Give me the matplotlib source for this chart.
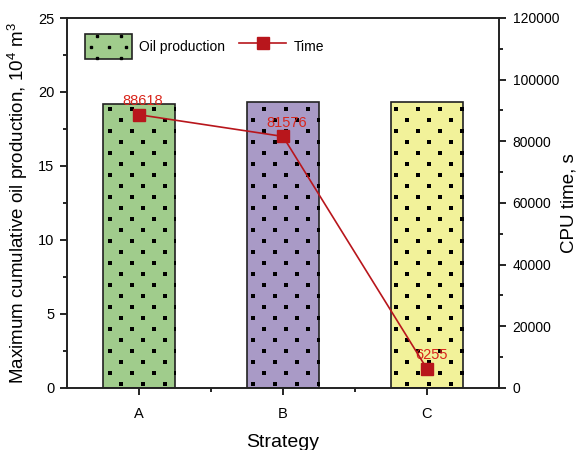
import numpy as np
import matplotlib
matplotlib.use("Agg")
import matplotlib.pyplot as plt
from matplotlib.patches import Rectangle
from matplotlib.lines import Line2D
from matplotlib.legend_handler import HandlerBase

plt.rcParams['font.family'] = ['Liberation Sans', 'DejaVu Sans']
plt.rcParams['mathtext.fontset'] = 'custom'
plt.rcParams['mathtext.rm'] = 'Liberation Sans'
plt.rcParams['mathtext.it'] = 'Liberation Sans:italic'

strategies = ['A', 'B', 'C']
oil_production = [19.2, 19.3, 19.3]      # 10^4 m^3
cpu_time = [88618, 81576, 6255]          # s
bar_colors = ['#a0cc8c', '#a99ac6', '#f2f29a']
line_color = '#b8161c'
label_color = '#d9261c'

DOT_DX = 0.1528   # dot spacing along a row (x units)
DOT_DY = 0.743    # row spacing (y units)


def dot_grid(x0, x1, y0, y1):
    # staggered dot texture covering a rectangle
    xs, ys = [], []
    base = -0.125 - 6 * DOT_DX
    for i, y in enumerate(np.arange(0.27, y1, DOT_DY)):
        shift = 0 if i % 2 == 0 else -DOT_DX / 2
        for x in np.arange(base + shift, x1 + DOT_DX, DOT_DX):
            if x0 - 0.02 <= x <= x1 + 0.02:
                xs.append(x)
                ys.append(y)
    return xs, ys


class DottedPatchHandler(HandlerBase):
    def create_artists(self, legend, orig_handle, xdescent, ydescent,
                       width, height, fontsize, trans):
        rect = Rectangle((-xdescent, -ydescent), width, height,
                         facecolor=orig_handle.get_facecolor(),
                         edgecolor='#222222', linewidth=1.2, transform=trans)
        dx = width / 4
        pts_x = [-xdescent + dx * 1.0, -xdescent + dx * 3.0,
                 -xdescent + dx * 0.5, -xdescent + dx * 2.0, -xdescent + dx * 3.5,
                 -xdescent + dx * 1.0, -xdescent + dx * 3.0]
        pts_y = [-ydescent + height * 0.06] * 2 + [-ydescent + height * 0.5] * 3 + \
                [-ydescent + height * 0.94] * 2
        dots = Line2D(pts_x, pts_y, linestyle='none', marker='s', markersize=1.9,
                      color='black', transform=trans)
        return [rect, dots]


fig, ax = plt.subplots(figsize=(5.78, 4.5), dpi=100)
fig.subplots_adjust(left=0.116, right=0.863, top=0.96, bottom=0.138)

x = np.arange(len(strategies))
bars = ax.bar(x, oil_production, width=0.5, color=bar_colors,
              edgecolor='#222222', linewidth=1.2, zorder=2)

# dotted fill texture clipped to each bar
for b in bars:
    bx0 = b.get_x()
    bx1 = bx0 + b.get_width()
    xs, ys = dot_grid(bx0, bx1, 0, b.get_height())
    dots = ax.scatter(xs, ys, s=5, marker='s', color='black', linewidths=0, zorder=3)
    dots.set_clip_path(b)

ax.set_xlim(-0.5, 2.5)
ax.set_ylim(0, 25)
ax.set_xticks(x)
ax.set_xticklabels(strategies)
ax.set_xticks([0.5, 1.5], minor=True)
ax.set_yticks(np.arange(0, 26, 5))
ax.set_yticks(np.arange(2.5, 25, 5), minor=True)
ax.tick_params(axis='x', which='both', direction='out', length=5, width=1.2,
               labelsize=10.5, pad=9)
ax.tick_params(axis='y', which='both', direction='out', length=5, width=1.2,
               labelsize=10.5, pad=4)
ax.tick_params(axis='both', which='minor', length=3)
ax.set_ylabel('Maximum cumulative oil production, $10^4$ m$^3$', fontsize=13.5, labelpad=6)
ax.set_xlabel('Strategy', fontsize=14, labelpad=9)
for s in ax.spines.values():
    s.set_linewidth(1.2)
    s.set_color('#222222')

ax2 = ax.twinx()
line, = ax2.plot(x, cpu_time, color=line_color, linewidth=1.2, marker='s',
                 markersize=8, markerfacecolor=line_color, markeredgecolor=line_color,
                 zorder=4)
ax2.set_ylim(0, 120000)
ax2.set_yticks(np.arange(0, 120001, 20000))
ax2.set_yticks(np.arange(10000, 120000, 20000), minor=True)
ax2.tick_params(axis='y', which='both', direction='out', length=5, width=1.2,
                labelsize=10, pad=5)
ax2.tick_params(axis='y', which='minor', length=3)
ax2.set_ylabel('CPU time, s', fontsize=13.5, labelpad=1)
for s in ax2.spines.values():
    s.set_linewidth(1.2)
    s.set_color('#222222')

for xi, t in zip(x, cpu_time):
    ax2.annotate(str(t), (xi, t), xytext=(3, 10), textcoords='offset points',
                 ha='center', va='center', color=label_color, fontsize=10.5)

ax2.legend([bars[0], line], ['Oil production', 'Time'],
           handler_map={type(bars[0]): DottedPatchHandler()},
           loc='upper left', bbox_to_anchor=(0.013, 0.99), ncol=2, frameon=False,
           fontsize=10, handlelength=3.4, handleheight=2.4,
           handletextpad=0.5, columnspacing=1.0)

fig.savefig('out.png', dpi=100)
